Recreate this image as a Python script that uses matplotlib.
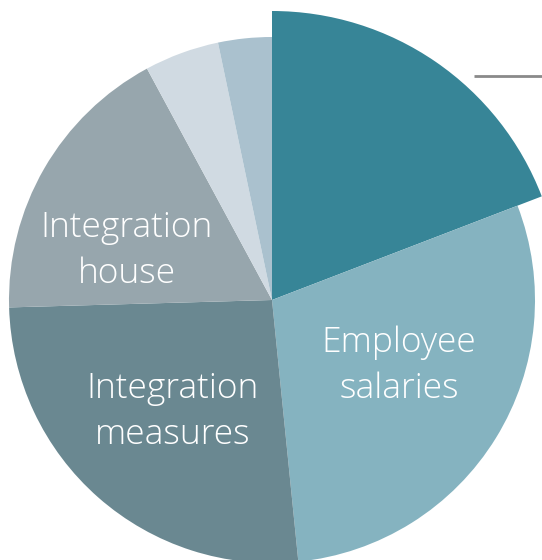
import matplotlib
matplotlib.use('Agg')
import matplotlib.pyplot as plt

labels = ['', 'Employee\nsalaries', 'Integration\nmeasures', 'Integration\nhouse', '', '']
shares = [19.2, 29.3, 26.2, 17.6, 4.6, 3.3]
colors = ['#378597', '#85b3c0', '#6a8891', '#97a6ad', '#d0dae2', '#aac1ce']

W, H = 542, 560
fig = plt.figure(figsize=(W / 100, H / 100), dpi=100)
ax = fig.add_axes([0, 0, 1, 1])

cx, cy = 272, H - 300
wedges, _ = ax.pie(shares, colors=colors, startangle=90, counterclock=False,
                   radius=263, center=(cx, cy), frame=True,
                   wedgeprops=dict(linewidth=0))
# first slice is drawn bigger than the rest
wedges[0].set_radius(289)
ax.set_xlim(0, W)
ax.set_ylim(0, H)
ax.set_aspect('equal')
ax.axis('off')

# label positions (pixel coords from the top-left)
label_pos = {1: (399, 366), 2: (173, 412), 3: (127, 251)}
for i, (x, y) in label_pos.items():
    ax.text(x, H - y, labels[i], ha='center', va='center', color='white',
            fontsize=25.5, family='Open Sans', fontweight='light', linespacing=1.42)

# leader line
ax.plot([474, W], [H - 76, H - 76], color='#8a8a8a', lw=2, solid_capstyle='butt')

fig.savefig('out.png', dpi=100)
